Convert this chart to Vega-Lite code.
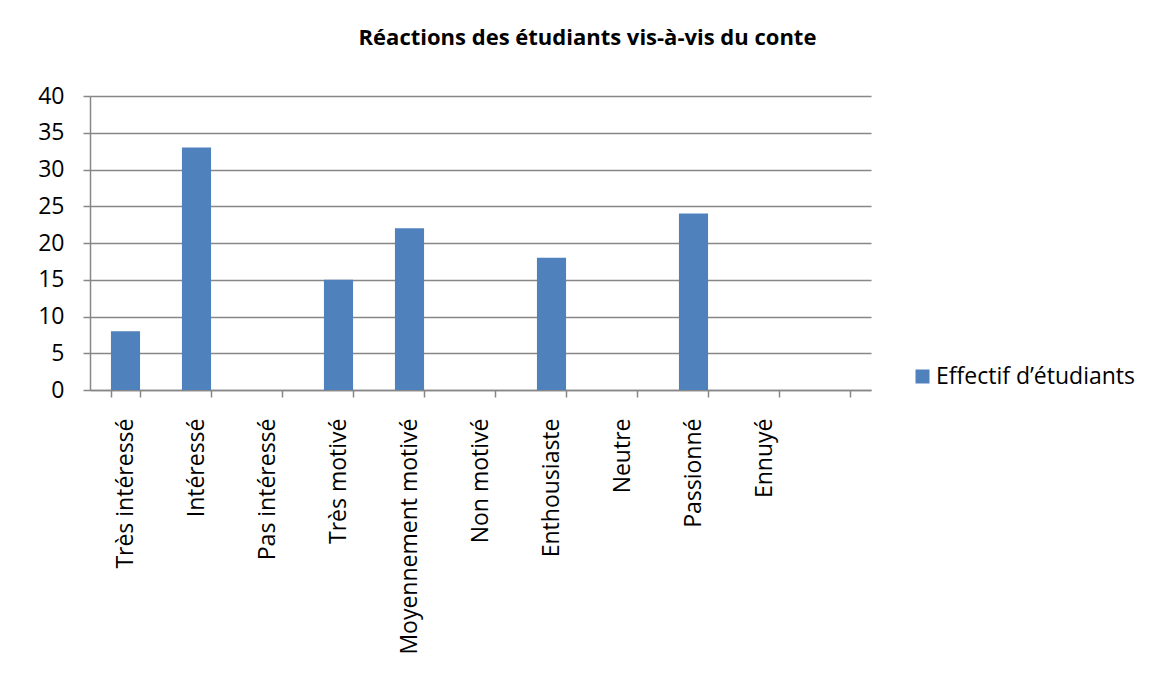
{
  "$schema": "https://vega.github.io/schema/vega-lite/v6.json",
  "width": 781,
  "height": 294,
  "autosize": {"type": "none"},
  "padding": {"left": 90, "top": 96, "right": 286, "bottom": 289},
  "background": "white",
  "title": {
    "text": "Réactions des étudiants vis-à-vis du conte",
    "font": "Open Sans",
    "fontSize": 22,
    "fontWeight": "bold",
    "color": "black",
    "anchor": "middle",
    "frame": "group",
    "baseline": "alphabetic",
    "dx": 107,
    "offset": 18
  },
  "data": {
    "values": [
      {"reaction": "Très intéressé", "effectif": 8},
      {"reaction": "Intéressé", "effectif": 33},
      {"reaction": "Pas intéressé", "effectif": 0},
      {"reaction": "Très motivé", "effectif": 15},
      {"reaction": "Moyennement motivé", "effectif": 22},
      {"reaction": "Non motivé", "effectif": 0},
      {"reaction": "Enthousiaste", "effectif": 18},
      {"reaction": "Neutre", "effectif": 0},
      {"reaction": "Passionné", "effectif": 24},
      {"reaction": "Ennuyé", "effectif": 0}
    ]
  },
  "mark": {"type": "bar"},
  "encoding": {
    "x": {
      "field": "reaction",
      "type": "nominal",
      "sort": null,
      "scale": {
        "domain": ["Très intéressé", "Intéressé", "Pas intéressé", "Très motivé", "Moyennement motivé", "Non motivé", "Enthousiaste", "Neutre", "Passionné", "Ennuyé", " "],
        "paddingInner": 0.59,
        "paddingOuter": 0.295
      },
      "axis": {
        "title": null,
        "labelAngle": -90,
        "labelAlign": "right",
        "labelBaseline": "middle",
        "labelFont": "Open Sans",
        "labelFontSize": 23,
        "labelColor": "black",
        "labelPadding": 21,
        "labelLimit": 0,
        "tickBand": "extent",
        "tickSize": 7,
        "tickColor": "#878787",
        "tickWidth": 1.5,
        "domainColor": "#878787",
        "domainWidth": 1.5,
        "grid": false
      }
    },
    "y": {
      "field": "effectif",
      "type": "quantitative",
      "scale": {"domain": [0, 40], "nice": false},
      "axis": {
        "title": null,
        "values": [0, 5, 10, 15, 20, 25, 30, 35, 40],
        "labelFont": "Open Sans",
        "labelFontSize": 23,
        "labelColor": "black",
        "labelPadding": 19,
        "tickSize": 7,
        "tickColor": "#878787",
        "tickWidth": 1.5,
        "domainColor": "#878787",
        "domainWidth": 1.5,
        "grid": true,
        "gridColor": "#878787",
        "gridWidth": 1.5,
        "gridOpacity": 1
      }
    },
    "color": {
      "datum": "Effectif d’étudiants",
      "type": "nominal",
      "scale": {"range": ["#4F81BD"]},
      "legend": {
        "title": null,
        "orient": "none",
        "legendX": 821,
        "legendY": 269,
        "symbolType": "square",
        "symbolSize": 196,
        "symbolStrokeWidth": 0,
        "symbolOpacity": 1,
        "labelFont": "Open Sans",
        "labelFontSize": 23,
        "labelLimit": 0,
        "labelColor": "black",
        "labelOffset": 2
      }
    }
  },
  "config": {
    "view": {"stroke": null}
  }
}
